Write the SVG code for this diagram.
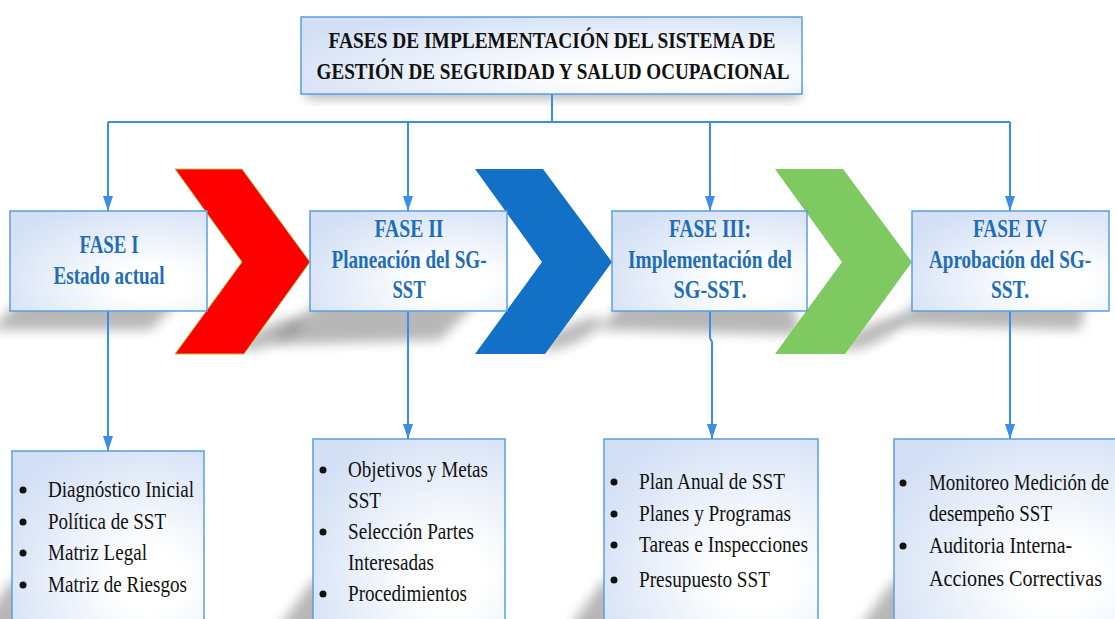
<svg xmlns="http://www.w3.org/2000/svg" width="1115" height="619" viewBox="0 0 1115 619">
<style>
.box{stroke:#5a9fe0;stroke-width:1.5;fill:url(#bg)}
.conn{fill:none;stroke:#3a8ee6;stroke-width:2}
.ttl{font-family:"Liberation Serif","Times New Roman",serif;font-weight:bold;font-size:24px;fill:#111;text-anchor:middle}
.ph{font-family:"Liberation Serif","Times New Roman",serif;font-weight:bold;font-size:26px;fill:#1f6db5;text-anchor:middle}
.li{font-family:"Liberation Serif","Times New Roman",serif;font-size:24px;fill:#111}
.bul{fill:#111}
.sh{fill:#000;opacity:0.28;filter:url(#blur)}
</style>
<defs>
<radialGradient id="bg" cx="0.72" cy="0.72" r="0.85" fx="0.72" fy="0.72">
<stop offset="0.2" stop-color="#ffffff"/>
<stop offset="1" stop-color="#d2dff5"/>
</radialGradient>
<filter id="blur" x="-30%" y="-50%" width="160%" height="200%"><feGaussianBlur stdDeviation="6"/></filter>
<marker id="ah" viewBox="0 0 15 10" refX="15" refY="5" markerWidth="15" markerHeight="10" markerUnits="userSpaceOnUse" orient="auto"><path d="M0,0 L15,5 L0,10 z" fill="#3a8ee6"/></marker>
</defs>

<g id="shadows">
<polygon class="sh" points="30,290 190,290 150,330 -10,330"/>
<polygon class="sh" points="330,290 490,290 440,340 270,345"/>
<polygon class="sh" points="630,290 790,290 800,335 600,330"/>
<polygon class="sh" points="930,290 1090,290 1080,330 890,325"/>
<ellipse class="sh" cx="272" cy="334" rx="34" ry="9" transform="rotate(-25 272 334)"/>
<ellipse class="sh" cx="572" cy="334" rx="34" ry="9" transform="rotate(-25 572 334)"/>
<ellipse class="sh" cx="872" cy="334" rx="34" ry="9" transform="rotate(-25 872 334)"/>
<polygon class="sh" points="12,580 40,580 40,640 -30,640"/>
<polygon class="sh" points="313,580 340,580 340,640 270,640"/>
<polygon class="sh" points="604,580 630,580 630,640 560,640"/>
<polygon class="sh" points="894,580 920,580 920,640 850,640"/>
<rect class="sh" x="305" y="85" width="495" height="14" opacity="0.15"/>
</g>

<g id="chevrons">
<polygon points="175,169 242,169 310,262 244,354 175,354 242,262" fill="#ff0000" stroke="#a8c64f" stroke-width="1"/>
<polygon points="475,169 543,169 612,262 545,354 475,354 542,262" fill="#1270c6"/>
<polygon points="775,169 843,169 912,262 845,354 775,354 842,262" fill="#7eca61"/>
</g>

<g id="connectors">
<path class="conn" d="M552,94 V122 M108,122 H1010"/>
<path class="conn" d="M108,122 V211" marker-end="url(#ah)"/>
<path class="conn" d="M408,122 V211" marker-end="url(#ah)"/>
<path class="conn" d="M710,122 V211" marker-end="url(#ah)"/>
<path class="conn" d="M1010,122 V211" marker-end="url(#ah)"/>
<path class="conn" d="M108,311 V451" marker-end="url(#ah)"/>
<path class="conn" d="M408,311 V439" marker-end="url(#ah)"/>
<path class="conn" d="M710,311 V338 L712,342 V439" marker-end="url(#ah)"/>
<path class="conn" d="M1010,311 V439" marker-end="url(#ah)"/>
</g>

<g id="title">
<rect class="box" x="301" y="17" width="501" height="77"/>
<text class="ttl" x="552" y="48" textLength="447" lengthAdjust="spacingAndGlyphs">FASES DE IMPLEMENTACIÓN DEL SISTEMA DE</text>
<text class="ttl" x="553" y="79" textLength="473" lengthAdjust="spacingAndGlyphs">GESTIÓN DE SEGURIDAD Y SALUD OCUPACIONAL</text>
</g>

<g id="fase1">
<rect class="box" x="10" y="211" width="197" height="100"/>
<text class="ph" x="109" y="253" textLength="59" lengthAdjust="spacingAndGlyphs">FASE I</text>
<text class="ph" x="109" y="284" textLength="111" lengthAdjust="spacingAndGlyphs">Estado actual</text>
</g>

<g id="fase2">
<rect class="box" x="310" y="211" width="197" height="100"/>
<text class="ph" x="409" y="237" textLength="69" lengthAdjust="spacingAndGlyphs">FASE II</text>
<text class="ph" x="409" y="268" textLength="155" lengthAdjust="spacingAndGlyphs">Planeación del SG-</text>
<text class="ph" x="409" y="298" textLength="33" lengthAdjust="spacingAndGlyphs">SST</text>
</g>

<g id="fase3">
<rect class="box" x="612" y="211" width="195" height="100"/>
<text class="ph" x="710" y="237" textLength="82" lengthAdjust="spacingAndGlyphs">FASE III:</text>
<text class="ph" x="710" y="268" textLength="164" lengthAdjust="spacingAndGlyphs">Implementación del</text>
<text class="ph" x="710" y="298" textLength="73" lengthAdjust="spacingAndGlyphs">SG-SST.</text>
</g>

<g id="fase4">
<rect class="box" x="912" y="211" width="197" height="100"/>
<text class="ph" x="1010" y="237" textLength="74" lengthAdjust="spacingAndGlyphs">FASE IV</text>
<text class="ph" x="1010" y="268" textLength="162" lengthAdjust="spacingAndGlyphs">Aprobación del SG-</text>
<text class="ph" x="1010" y="298" textLength="38" lengthAdjust="spacingAndGlyphs">SST.</text>
</g>

<g id="lista1">
<rect class="box" x="12" y="451" width="192" height="180"/>
<circle class="bul" cx="23" cy="490" r="3.5"/>
<circle class="bul" cx="23" cy="522" r="3.5"/>
<circle class="bul" cx="23" cy="553" r="3.5"/>
<circle class="bul" cx="23" cy="585" r="3.5"/>
<text class="li" x="48" y="497" textLength="146" lengthAdjust="spacingAndGlyphs">Diagnóstico Inicial</text>
<text class="li" x="48" y="529" textLength="118" lengthAdjust="spacingAndGlyphs">Política de SST</text>
<text class="li" x="48" y="560" textLength="99" lengthAdjust="spacingAndGlyphs">Matriz Legal</text>
<text class="li" x="48" y="592" textLength="139" lengthAdjust="spacingAndGlyphs">Matriz de Riesgos</text>
</g>

<g id="lista2">
<rect class="box" x="313" y="439" width="192" height="190"/>
<circle class="bul" cx="323" cy="470" r="3.5"/>
<circle class="bul" cx="323" cy="532" r="3.5"/>
<circle class="bul" cx="323" cy="594" r="3.5"/>
<text class="li" x="348" y="477" textLength="140" lengthAdjust="spacingAndGlyphs">Objetivos y Metas</text>
<text class="li" x="348" y="508" textLength="33" lengthAdjust="spacingAndGlyphs">SST</text>
<text class="li" x="348" y="539" textLength="126" lengthAdjust="spacingAndGlyphs">Selección Partes</text>
<text class="li" x="348" y="570" textLength="86" lengthAdjust="spacingAndGlyphs">Interesadas</text>
<text class="li" x="348" y="601" textLength="119" lengthAdjust="spacingAndGlyphs">Procedimientos</text>
</g>

<g id="lista3">
<rect class="box" x="604" y="439" width="214" height="190"/>
<circle class="bul" cx="614" cy="482" r="3.5"/>
<circle class="bul" cx="614" cy="514" r="3.5"/>
<circle class="bul" cx="614" cy="545" r="3.5"/>
<circle class="bul" cx="614" cy="580" r="3.5"/>
<text class="li" x="639" y="489" textLength="146" lengthAdjust="spacingAndGlyphs">Plan Anual de SST</text>
<text class="li" x="639" y="521" textLength="152" lengthAdjust="spacingAndGlyphs">Planes y Programas</text>
<text class="li" x="639" y="552" textLength="169" lengthAdjust="spacingAndGlyphs">Tareas e Inspecciones</text>
<text class="li" x="639" y="587" textLength="131" lengthAdjust="spacingAndGlyphs">Presupuesto SST</text>
</g>

<g id="lista4">
<rect class="box" x="894" y="439" width="230" height="190"/>
<circle class="bul" cx="903" cy="483" r="3.5"/>
<circle class="bul" cx="903" cy="546" r="3.5"/>
<text class="li" x="929" y="490" textLength="180" lengthAdjust="spacingAndGlyphs">Monitoreo Medición de</text>
<text class="li" x="929" y="521" textLength="123" lengthAdjust="spacingAndGlyphs">desempeño SST</text>
<text class="li" x="929" y="553" textLength="143" lengthAdjust="spacingAndGlyphs">Auditoria Interna-</text>
<text class="li" x="929" y="586" textLength="173" lengthAdjust="spacingAndGlyphs">Acciones Correctivas</text>
</g>
</svg>
